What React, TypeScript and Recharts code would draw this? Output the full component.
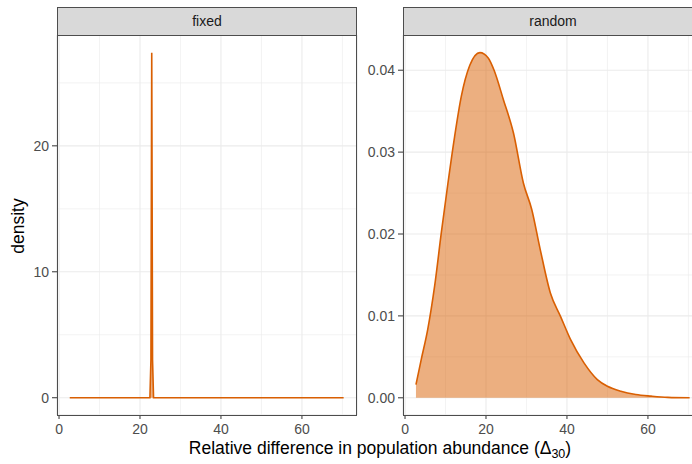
import React from 'react';
import { AreaChart, Area, XAxis, YAxis, CartesianGrid } from 'recharts';

// "fixed" panel: a single narrow spike
const fixedX = [2.65, 22.45, 22.7, 22.9, 23.1, 23.35, 70.3];
const fixedY = [0, 0, 3, 27.4, 3, 0, 0];

// "random" panel: density curve
const randomX = [2.7, 4.0, 5.6, 7.3, 8.95, 10.6, 12.25, 13.9, 16.0, 18.5, 20.55, 22.0, 24.3, 26.8, 29.25, 31.3, 33.4, 35.9, 38.4, 40.9, 44.2, 47.5, 50.0, 53.3, 57.0, 60.8, 64.9, 70.3];
const randomY = [0.0016, 0.00467, 0.00833, 0.0136, 0.0201, 0.0262, 0.0319, 0.0368, 0.0406, 0.04215, 0.0415, 0.04, 0.0364, 0.0323, 0.0262, 0.023, 0.0181, 0.0128, 0.00995, 0.0071, 0.00427, 0.00223, 0.00141, 0.0008, 0.0004, 0.0002, 0.00005, 0];

const xTicks = [0, 20, 40, 60];
const xMinor = [10, 30, 50, 70];
const fixedTicks = [0, 10, 20];
const fixedMinor = [5, 15, 25];
const randomTicks = [0, 0.01, 0.02, 0.03, 0.04];
const randomMinor = [0.005, 0.015, 0.025, 0.035];

const xDomain: [number, number] = [-0.5, 73.6];
const ORANGE = '#d95f02';
const FONT = '"Liberation Sans", Arial, sans-serif';

const fixedData = fixedX.map((x, i) => ({ x, y: fixedY[i] }));
const randomData = randomX.map((x, i) => ({ x, y: randomY[i] }));

const tickStyle = { fill: '#4d4d4d', fontSize: 14, fontFamily: FONT };

type PanelProps = {
  data: { x: number; y: number }[];
  yDomain: [number, number];
  yTicks: number[];
  yMinor: number[];
  yWidth: number;
  width: number;
  curve: 'linear' | 'monotone';
  fmt?: (v: number) => string;
};

const Panel = ({ data, yDomain, yTicks, yMinor, yWidth, width, curve, fmt }: PanelProps) => (
  <AreaChart width={width} height={440} data={data} margin={{ top: 35, right: 3, left: 0, bottom: 0 }}>
    <XAxis xAxisId="minor" dataKey="x" type="number" domain={xDomain} ticks={xMinor} allowDataOverflow hide />
    <YAxis yAxisId="minor" type="number" domain={yDomain} ticks={yMinor} allowDataOverflow hide />
    <CartesianGrid xAxisId="minor" yAxisId="minor" stroke="#ebebeb" strokeWidth={0.6} />
    <CartesianGrid stroke="#ebebeb" strokeWidth={1.1} />
    <XAxis
      dataKey="x" type="number" domain={xDomain} ticks={xTicks} allowDataOverflow
      axisLine={false} tickSize={4} tickMargin={5} tickLine={{ stroke: '#333' }} tick={tickStyle} height={25}
    />
    <YAxis
      type="number" domain={yDomain} ticks={yTicks} allowDataOverflow tickFormatter={fmt}
      axisLine={false} tickSize={5} tickMargin={3} tickLine={{ stroke: '#333' }} tick={tickStyle} width={yWidth}
    />
    <Area
      dataKey="y" type={curve} stroke={ORANGE} strokeWidth={1.6} fill={ORANGE}
      fillOpacity={0.5} baseValue={0} isAnimationActive={false} dot={false}
    />
  </AreaChart>
);

const Strip = ({ left, label }: { left: number; label: string }) => (
  <div
    style={{
      position: 'absolute', left, top: 7, width: 300, height: 29, boxSizing: 'border-box',
      background: '#d9d9d9', border: '1px solid #4d4d4d', fontFamily: FONT, fontSize: 14,
      color: '#1a1a1a', textAlign: 'center', lineHeight: '27px',
    }}
  >
    {label}
  </div>
);

const Border = ({ left }: { left: number }) => (
  <div
    style={{
      position: 'absolute', left, top: 35, width: 300, height: 381, boxSizing: 'border-box',
      border: '1px solid #4d4d4d', pointerEvents: 'none',
    }}
  />
);

const App = () => {
  return (
    <div style={{ position: 'absolute', left: 0, top: 0, width: 692, height: 464, overflow: 'hidden', background: '#fff' }}>
      <div style={{ position: 'absolute', left: 0, top: 0 }}>
        <Panel data={fixedData} yDomain={[-1.37, 28.8]} yTicks={fixedTicks} yMinor={fixedMinor} yWidth={57} width={360} curve="linear" />
      </div>
      <div style={{ position: 'absolute', left: 340, top: 0 }}>
        <Panel
          data={randomData} yDomain={[-0.0021, 0.0443]} yTicks={randomTicks} yMinor={randomMinor}
          yWidth={63} width={366} curve="monotone" fmt={(v: number) => v.toFixed(2)}
        />
      </div>
      <Strip left={57} label="fixed" />
      <Strip left={403} label="random" />
      <Border left={57} />
      <Border left={403} />
      <svg width={692} height={464} style={{ position: 'absolute', left: 0, top: 0, pointerEvents: 'none' }}>
        <text x={24} y={226} transform="rotate(-90 24 226)" textAnchor="middle" fontFamily={FONT} fontSize={17.5} fill="#000">
          density
        </text>
        <text x={380} y={454} textAnchor="middle" fontFamily={FONT} fontSize={17.5} fill="#000">
          Relative difference in population abundance (Δ<tspan fontSize={12.5} dy={4}>30</tspan><tspan dy={-4}>)</tspan>
        </text>
      </svg>
    </div>
  );
};

export default App;
